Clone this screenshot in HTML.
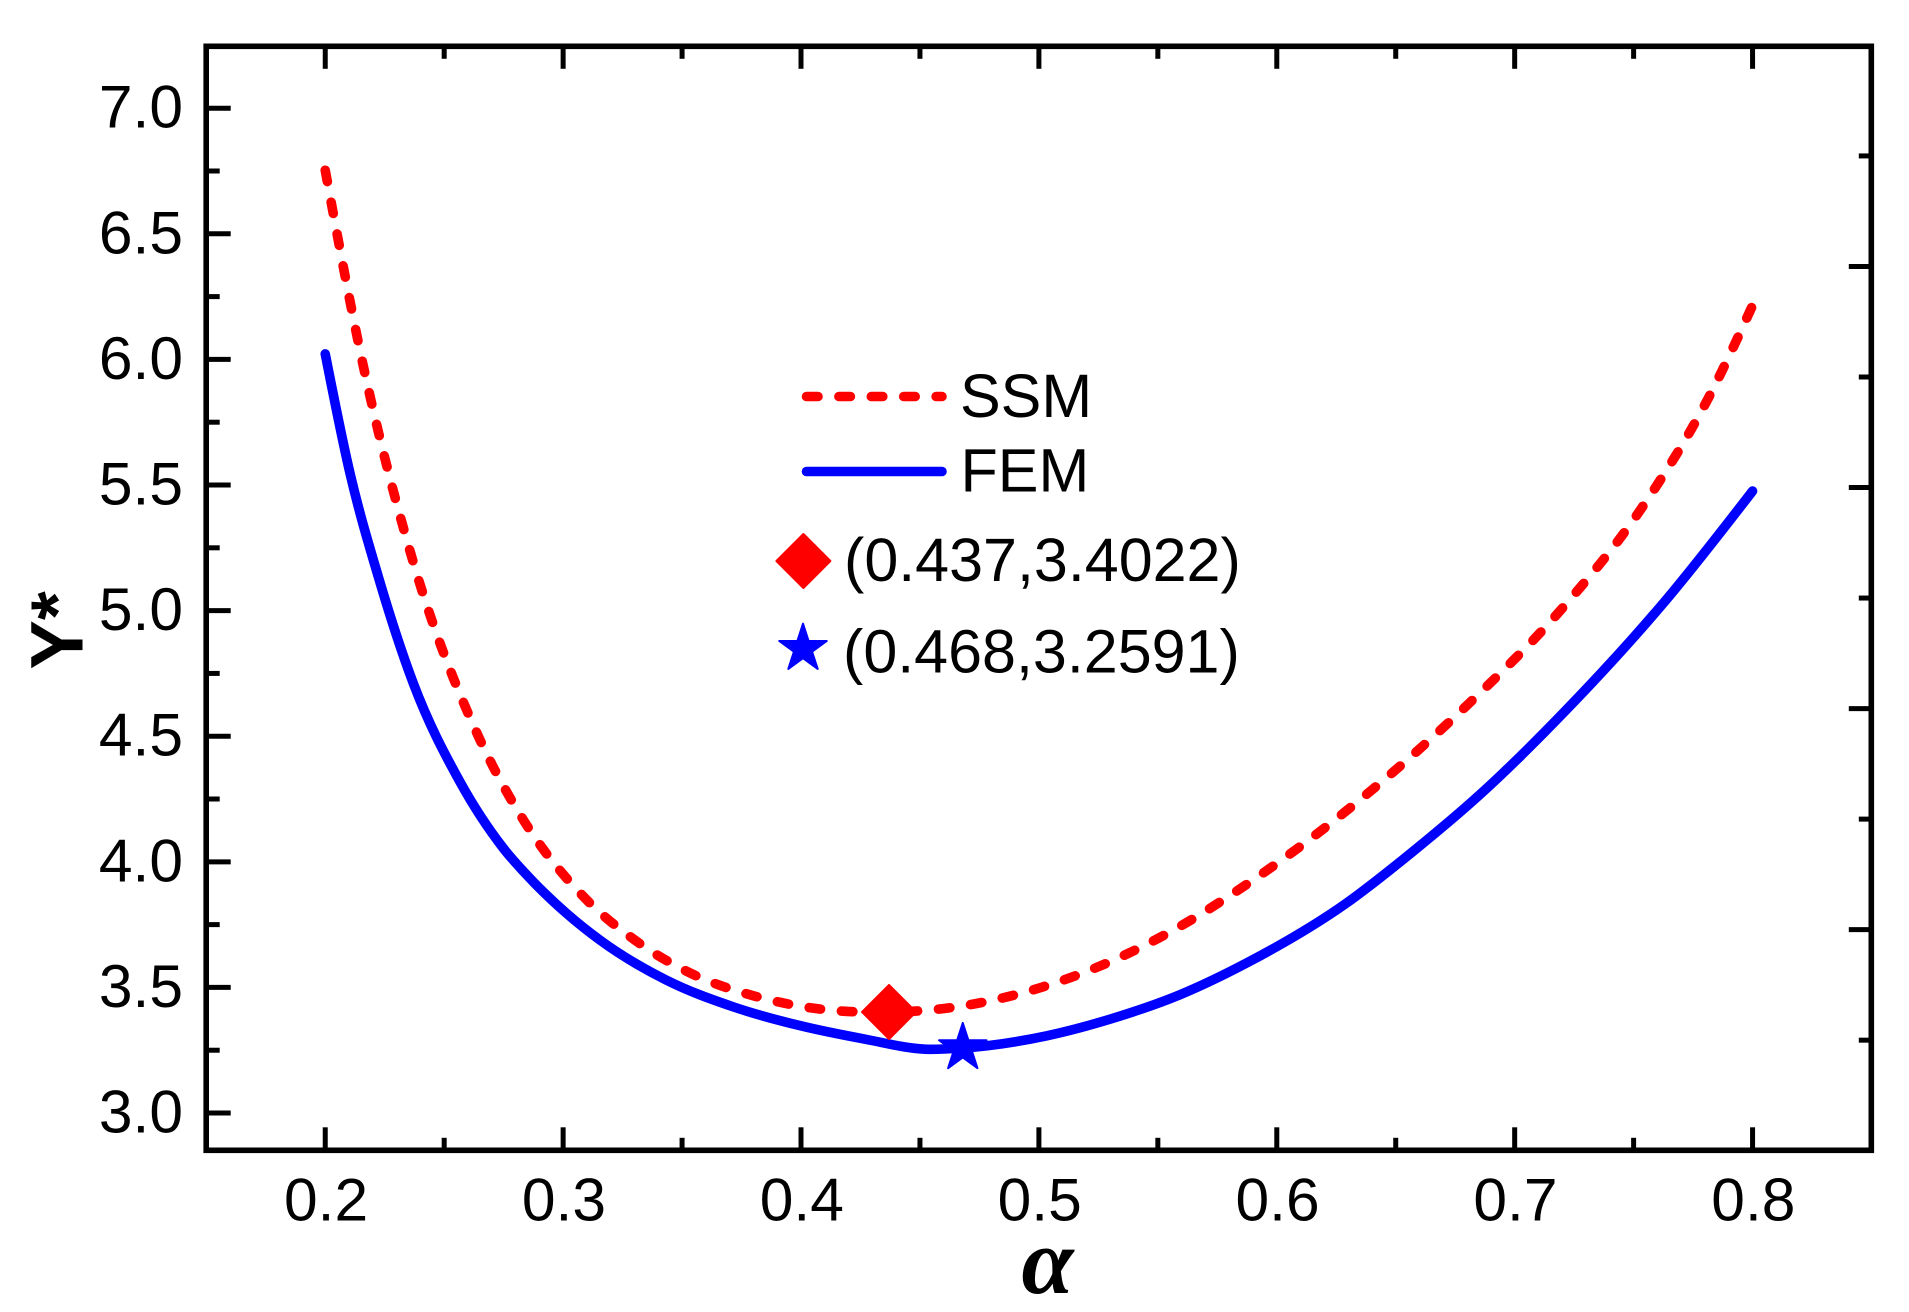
<!DOCTYPE html>
<html lang="en">
<head>
<meta charset="utf-8">
<title>Y* versus alpha: SSM and FEM</title>
<style>
html,body{margin:0;padding:0;background:#fff;width:1909px;height:1312px;overflow:hidden}
svg{display:block}
text{font-family:"Liberation Sans",Arial,sans-serif;fill:#000}
</style>
</head>
<body>
<svg id="chart" xmlns="http://www.w3.org/2000/svg" width="1909" height="1312" viewBox="0 0 1909 1312">
  <rect x="0" y="0" width="1909" height="1312" fill="#fff"/>
  <g id="series"></g>
  <g id="axes"></g>
  <g id="markers"></g>
  <text transform="translate(82.7 669.5) rotate(-90)" font-size="74" font-weight="700">Y*</text>
  <text x="1047.5" y="1293" text-anchor="middle" font-size="94" font-weight="700" font-style="italic" style="font-family:'Liberation Serif',serif">α</text>
  <g>
    <line x1="806.5" y1="396.5" x2="942" y2="396.5" stroke="#f00" stroke-width="9.6" stroke-linecap="round" stroke-dasharray="11.5 20.9"/>
    <text x="960" y="417" font-size="61">SSM</text>
    <line x1="806.5" y1="471.5" x2="942" y2="471.5" stroke="#00f" stroke-width="9.6" stroke-linecap="round"/>
    <text x="960.5" y="491.5" font-size="61">FEM</text>
    <polygon points="803.4,534 830.4,561 803.4,588 776.4,561" fill="#f00" stroke="#f00" stroke-width="2" stroke-linejoin="round"/>
    <text x="844" y="581" font-size="61">(0.437,3.4022)</text>
    <polygon id="legend-star" fill="#00f" stroke="#00f" stroke-width="2" stroke-linejoin="round"/>
    <text x="843" y="672.5" font-size="61">(0.468,3.2591)</text>
  </g>
</svg>
<script>
const xMajorTicks = [0.2, 0.3, 0.4, 0.5, 0.6, 0.7, 0.8];
const xMinorTicks = [0.25, 0.35, 0.45, 0.55, 0.65, 0.75];
const xTickLabels = ["0.2", "0.3", "0.4", "0.5", "0.6", "0.7", "0.8"];
const yMajorTicks = [3.0, 3.5, 4.0, 4.5, 5.0, 5.5, 6.0, 6.5, 7.0];
const yMinorTicks = [3.25, 3.75, 4.25, 4.75, 5.25, 5.75, 6.25, 6.75];
const yTickLabels = ["3.0", "3.5", "4.0", "4.5", "5.0", "5.5", "6.0", "6.5", "7.0"];
const rightMajorTicks = [3.73, 4.61, 5.49, 6.37];
const rightMinorTicks = [3.29, 4.17, 5.05, 5.93, 6.81];

const ssmAlpha = [0.2, 0.216, 0.236, 0.2644, 0.2836, 0.3088, 0.3305, 0.3546, 0.3803, 0.407, 0.437, 0.4618, 0.5013, 0.5269, 0.5517, 0.5971, 0.641, 0.6815, 0.7199, 0.7538, 0.7818, 0.8];
const ssmValues = [6.753, 5.974, 5.225, 4.499, 4.162, 3.859, 3.686, 3.552, 3.466, 3.415, 3.402, 3.418, 3.501, 3.59, 3.703, 3.974, 4.294, 4.637, 5.008, 5.414, 5.853, 6.215];
const femAlpha = [0.2, 0.2104, 0.2223, 0.237, 0.2566, 0.2748, 0.2874, 0.3014, 0.3154, 0.3434, 0.3714, 0.3995, 0.4275, 0.452, 0.468, 0.5031, 0.5311, 0.5591, 0.5871, 0.6292, 0.6571, 0.6852, 0.7216, 0.7636, 0.8];
const femValues = [6.022, 5.547, 5.135, 4.711, 4.319, 4.055, 3.921, 3.795, 3.689, 3.529, 3.423, 3.348, 3.293, 3.254, 3.259, 3.307, 3.377, 3.47, 3.596, 3.835, 4.04, 4.266, 4.604, 5.042, 5.476];
const ssmOptimum = [0.437, 3.4022];
const femOptimum = [0.468, 3.2591];

const NS = "http://www.w3.org/2000/svg";
const xDomain = [0.15, 0.85], xRange = [206.3, 1871.5];
const yDomain = [2.85, 7.25], yRange = [1150.7, 45.4];
function xScale(v) { return xRange[0] + (v - xDomain[0]) / (xDomain[1] - xDomain[0]) * (xRange[1] - xRange[0]); }
function yScale(v) { return yRange[0] + (v - yDomain[0]) / (yDomain[1] - yDomain[0]) * (yRange[1] - yRange[0]); }
function make(tag, attrs, parent) {
  const el = document.createElementNS(NS, tag);
  for (const k in attrs) el.setAttribute(k, attrs[k]);
  parent.appendChild(el);
  return el;
}
function curvePath(xs, ys) {
  const px = xs.map(xScale), py = ys.map(yScale), n = px.length;
  const h = [], s = [], m = [];
  for (let i = 0; i < n - 1; i++) {
    h.push(px[i + 1] - px[i]);
    s.push((py[i + 1] - py[i]) / h[i]);
  }
  for (let i = 1; i < n - 1; i++) {
    m[i] = (h[i - 1] * s[i] + h[i] * s[i - 1]) / (h[i - 1] + h[i]);
  }
  m[0] = 1.5 * s[0] - 0.5 * m[1];
  m[n - 1] = 1.5 * s[n - 2] - 0.5 * m[n - 2];
  let d = "M" + px[0].toFixed(2) + " " + py[0].toFixed(2);
  for (let i = 0; i < n - 1; i++) {
    const t = h[i] / 3;
    d += "C" + (px[i] + t).toFixed(2) + " " + (py[i] + m[i] * t).toFixed(2) + " " + (px[i + 1] - t).toFixed(2) + " " + (py[i + 1] - m[i + 1] * t).toFixed(2) + " " + px[i + 1].toFixed(2) + " " + py[i + 1].toFixed(2);
  }
  return d;
}
function starPoints(cx, cy, R) {
  const r = R * 0.382, pts = [];
  for (let i = 0; i < 10; i++) {
    const rad = i % 2 ? r : R, ang = -Math.PI / 2 + i * Math.PI / 5;
    pts.push((cx + rad * Math.cos(ang)).toFixed(2) + "," + (cy + rad * Math.sin(ang)).toFixed(2));
  }
  return pts.join(" ");
}

const seriesG = document.getElementById("series");
const axesG = document.getElementById("axes");
const markersG = document.getElementById("markers");

const femLine = make("path", {d: curvePath(femAlpha, femValues), fill: "none", stroke: "#00f", "stroke-width": 9.6, "stroke-linecap": "round", "stroke-linejoin": "round"}, seriesG);


const ssmLine = make("path", {d: curvePath(ssmAlpha, ssmValues), fill: "none", stroke: "#f00", "stroke-width": 9.6, "stroke-linecap": "round", "stroke-dasharray": "11.5 20.9"}, seriesG);



const frameLeft = 206.2, frameRight = 1871.3, frameTop = 46.3, frameBottom = 1150.3;
const majorLen = 22.5, minorLen = 12.5, tickW = 5;

xMajorTicks.forEach(function (v, i) {
  const x = xScale(v);
  const bottomTick = make("line", {x1: x, x2: x, y1: frameBottom, y2: frameBottom - majorLen - 0.5, stroke: "#000", "stroke-width": tickW}, axesG);
  
  
  const topTick = make("line", {x1: x, x2: x, y1: frameTop, y2: frameTop + majorLen, stroke: "#000", "stroke-width": tickW}, axesG);
  
  
  const label = make("text", {x: x + 0.8, y: 1220.5, "text-anchor": "middle", "font-size": 60.5}, axesG);
  label.textContent = xTickLabels[i];
  
  
});
xMinorTicks.forEach(function (v) {
  const x = xScale(v);
  const bottomTick = make("line", {x1: x, x2: x, y1: frameBottom, y2: frameBottom - minorLen, stroke: "#000", "stroke-width": tickW}, axesG);
  
  
  const topTick = make("line", {x1: x, x2: x, y1: frameTop, y2: frameTop + minorLen, stroke: "#000", "stroke-width": tickW}, axesG);
  
  
});
yMajorTicks.forEach(function (v, i) {
  const y = yScale(v);
  const tick = make("line", {x1: frameLeft, x2: frameLeft + majorLen + 2, y1: y, y2: y, stroke: "#000", "stroke-width": tickW}, axesG);
  
  
  const label = make("text", {x: 183, y: y + 19.5, "text-anchor": "end", "font-size": 60.5}, axesG);
  label.textContent = yTickLabels[i];
  
  
});
yMinorTicks.forEach(function (v) {
  const y = yScale(v);
  const tick = make("line", {x1: frameLeft, x2: frameLeft + minorLen + 1, y1: y, y2: y, stroke: "#000", "stroke-width": tickW}, axesG);
  
  
});
rightMajorTicks.forEach(function (v) {
  const y = yScale(v);
  const tick = make("line", {x1: frameRight, x2: frameRight - majorLen, y1: y, y2: y, stroke: "#000", "stroke-width": tickW}, axesG);
  
  
});
rightMinorTicks.forEach(function (v) {
  const y = yScale(v);
  const tick = make("line", {x1: frameRight, x2: frameRight - minorLen, y1: y, y2: y, stroke: "#000", "stroke-width": tickW}, axesG);
  
  
});

const frame = make("rect", {x: frameLeft, y: frameTop, width: frameRight - frameLeft, height: frameBottom - frameTop, fill: "none", stroke: "#000", "stroke-width": 5.6}, axesG);



const dx = xScale(ssmOptimum[0]), dy = yScale(ssmOptimum[1]);
const diamond = make("polygon", {points: [[dx, dy - 27], [dx + 27, dy], [dx, dy + 27], [dx - 27, dy]].map(function (p) { return p.join(","); }).join(" "), fill: "#f00", stroke: "#f00", "stroke-width": 2, "stroke-linejoin": "round"}, markersG);


const star = make("polygon", {points: starPoints(xScale(femOptimum[0]), yScale(femOptimum[1]), 25), fill: "#00f", stroke: "#00f", "stroke-width": 2, "stroke-linejoin": "round"}, markersG);


document.getElementById("legend-star").setAttribute("points", starPoints(803, 648.7, 25));
</script>
</body>
</html>
